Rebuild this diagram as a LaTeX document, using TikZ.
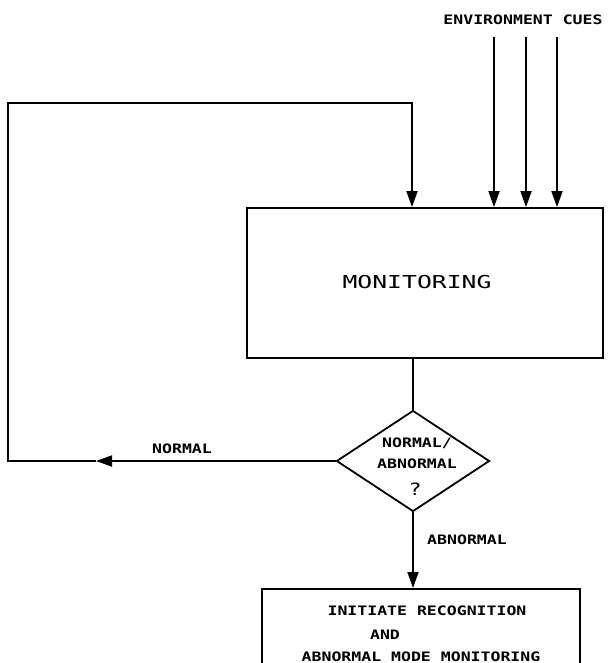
\documentclass[tikz,border=0pt]{standalone}
\usepackage{fontspec}
\usepackage{graphicx}
\newfontfamily\plotfont{DejaVu Sans Mono}
\usetikzlibrary{arrows.meta,shapes.geometric}
\newcommand{\sxs}[1]{\scalebox{1.27}[1]{#1}}
\newcommand{\sxl}[1]{\scalebox{1.39}[1]{#1}}
\tikzset{
  ln/.style={line width=1.8pt, line join=miter},
  arr/.style={ln, -{Triangle[length=16pt,width=11pt]}},
  box/.style={draw, line width=1.8pt, rectangle, inner sep=0pt},
  small/.style={font=\plotfont\bfseries\fontsize{13}{15}\selectfont, inner sep=0pt, anchor=base},
  big/.style={font=\plotfont\fontsize{17.8}{20}\selectfont, inner sep=0pt, anchor=base},
  qmark/.style={font=\plotfont\fontsize{17}{19}\selectfont, inner sep=0pt, anchor=base},
}
\begin{document}
\begin{tikzpicture}[x=1pt,y=-1pt]
\useasboundingbox (0,0) rectangle (607,663);
\clip (0,0) rectangle (607,663);
% boxes
\node[box, minimum width=356pt, minimum height=150pt] (mon) at (425,283) {};
\node[big] (montext) at (417,288) {\sxl{MONITORING}};
\node[draw, diamond, line width=1.8pt, minimum width=153pt, minimum height=101pt, inner sep=0pt] (dia) at (413,461) {};
\node[small] (d1) at (417,447) {\sxs{NORMAL/}};
\node[small] (d2) at (417,468) {\sxs{ABNORMAL}};
\node[qmark] (d3) at (415,495) {\sxs{?}};
\node[box, minimum width=318pt, minimum height=100pt, anchor=north] (init) at (421,588) {};
\node[small] (i1) at (427,615) {\sxs{INITIATE RECOGNITION}};
\node[small] (i2) at (385,639) {\sxs{AND}};
\node[small] (i3) at (421,661) {\sxs{ABNORMAL MODE MONITORING}};
% labels
\node[small] (env) at (523,25) {\sxs{ENVIRONMENT CUES}};
\node[small] (lnorm) at (182,453) {\sxs{NORMAL}};
\node[small] (labn) at (467,544) {\sxs{ABNORMAL}};
% environment arrows
\coordinate (e1) at (494,37);
\coordinate (e2) at (526,37);
\coordinate (e3) at (557,37);
\draw[arr] (e1) -- (e1 |- mon.north);
\draw[arr] (e2) -- (e2 |- mon.north);
\draw[arr] (e3) -- (e3 |- mon.north);
% monitoring to decision
\draw[ln] (dia.north |- mon.south) -- (dia.north);
\draw[arr] (dia.south) -- (dia.south |- init.north);
% feedback loop
\coordinate (fbM) at (96,461);
\coordinate (fbA) at (8,461);
\coordinate (fbB) at (8,103);
\coordinate (fbC) at (412,103);
\draw[arr] (dia.west) -- (fbM);
\draw[arr] (fbM) -- (fbA) -- (fbB) -- (fbC) -- (fbC |- mon.north);
\end{tikzpicture}
\end{document}
